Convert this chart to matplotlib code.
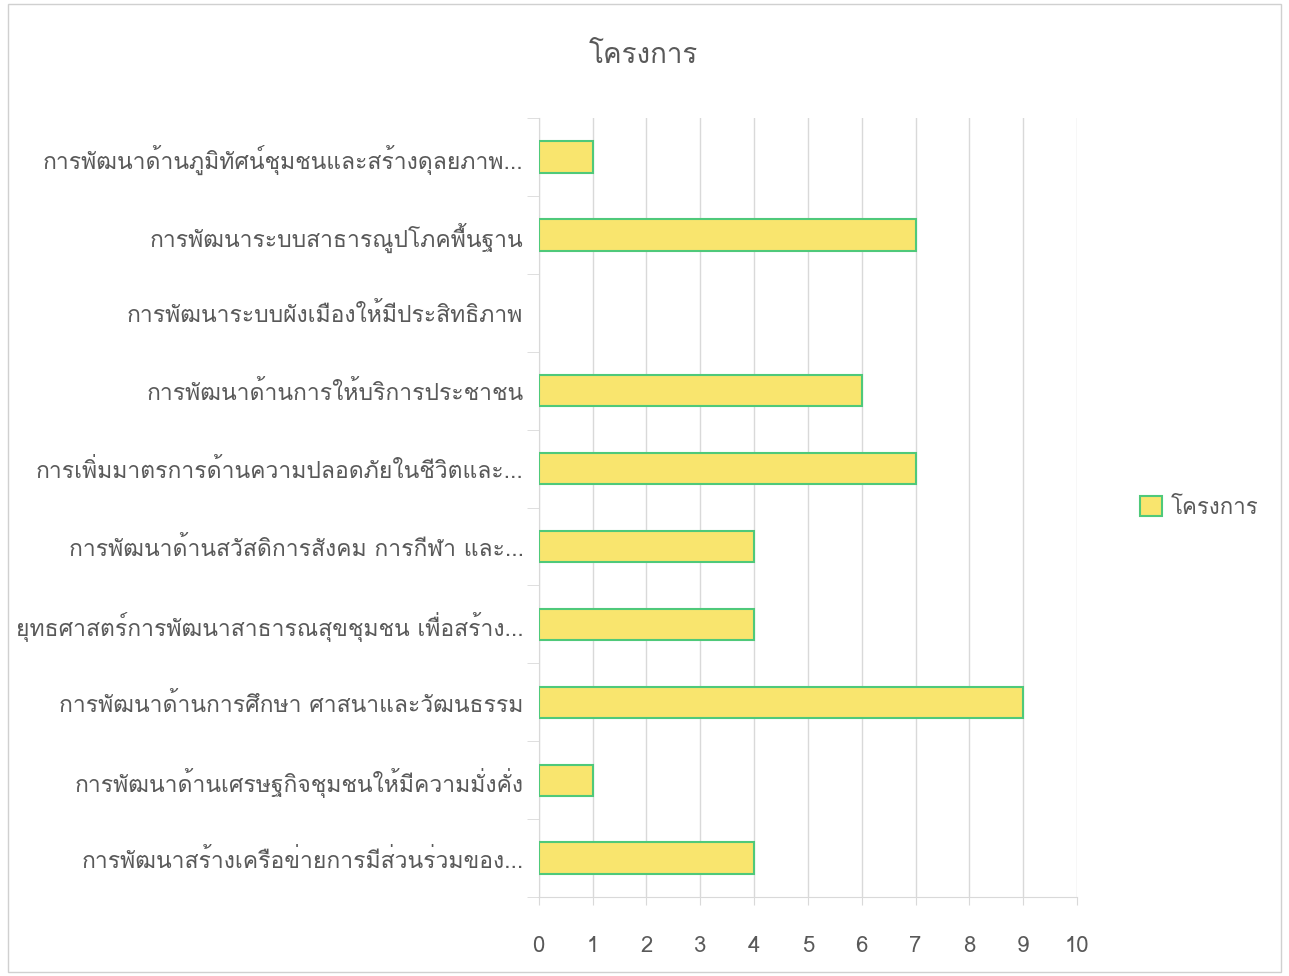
import matplotlib
matplotlib.use("Agg")
import matplotlib.pyplot as plt
from matplotlib import font_manager
from matplotlib.ft2font import FT2Font
from matplotlib.patches import Rectangle

# categories from top to bottom as shown in the chart
labels = [
    "การพัฒนาด้านภูมิทัศน์ชุมชนและสร้างดุลยภาพ...",
    "การพัฒนาระบบสาธารณูปโภคพื้นฐาน",
    "การพัฒนาระบบผังเมืองให้มีประสิทธิภาพ",
    "การพัฒนาด้านการให้บริการประชาชน",
    "การเพิ่มมาตรการด้านความปลอดภัยในชีวิตและ...",
    "การพัฒนาด้านสวัสดิการสังคม การกีฬา และ...",
    "ยุทธศาสตร์การพัฒนาสาธารณสุขชุมชน เพื่อสร้าง...",
    "การพัฒนาด้านการศึกษา ศาสนาและวัฒนธรรม",
    "การพัฒนาด้านเศรษฐกิจชุมชนให้มีความมั่งคั่ง",
    "การพัฒนาสร้างเครือข่ายการมีส่วนร่วมของ...",
]
projects = [1, 7, 0, 6, 7, 4, 4, 9, 1, 4]
series_name = "โครงการ"
x_ticks = list(range(0, 11))


# find an installed font that has Thai glyphs
def thai_fonts():
    found = []
    for f in font_manager.fontManager.ttflist:
        try:
            if 0x0E01 in FT2Font(f.fname).get_charmap() and f.name not in found:
                found.append(f.name)
        except Exception:
            pass
    return found


thai = thai_fonts()
plt.rcParams["font.family"] = thai[:1] + ["DejaVu Sans"]

text_col = "#595959"
grid_col = "#d9d9d9"

fig = plt.figure(figsize=(12.89, 9.76), dpi=100)
ax = fig.add_axes([0.418, 0.081, 0.4175, 0.798])

y = list(range(len(labels)))
# no outline for empty bars, so a zero does not leave a sliver
edge_w = [1.5 if v > 0 else 0 for v in projects]
ax.barh(y, projects, height=0.4, color="#f9e56e", edgecolor="#4fc97a",
        linewidth=edge_w, label=series_name, zorder=3)

ax.set_ylim(len(labels) - 0.5, -0.5)
ax.set_xlim(0, 10)
ax.set_xticks(x_ticks)
ax.set_xticklabels([str(t) for t in x_ticks], fontsize=16, color=text_col)
ax.tick_params(axis="x", length=6, color=grid_col, pad=22)

ax.set_yticks(y)
ax.set_yticklabels(labels, fontsize=16.5, color=text_col)
ax.tick_params(axis="y", which="major", length=0, pad=11)
ax.set_yticks([k - 0.5 for k in range(len(labels) + 1)], minor=True)
ax.tick_params(axis="y", which="minor", length=9, color=grid_col)

ax.grid(axis="x", color=grid_col, linewidth=1, zorder=0)
for s in ["top", "right"]:
    ax.spines[s].set_visible(False)
ax.spines["left"].set_color(grid_col)
ax.spines["bottom"].set_color(grid_col)

fig.text(0.499, 0.943, series_name, ha="center", va="center",
         fontsize=20, color=text_col)

leg = ax.legend(loc="center left", bbox_to_anchor=(1.08, 0.5), frameon=False,
                fontsize=16, handlelength=1.0, handleheight=1.0,
                handletextpad=0.4, labelcolor=text_col)

fig.patches.append(Rectangle((0.006, 0.004), 0.988, 0.992, transform=fig.transFigure,
                             fill=False, edgecolor="#d0d0d0", linewidth=1))

fig.savefig("out.png", dpi=100)
